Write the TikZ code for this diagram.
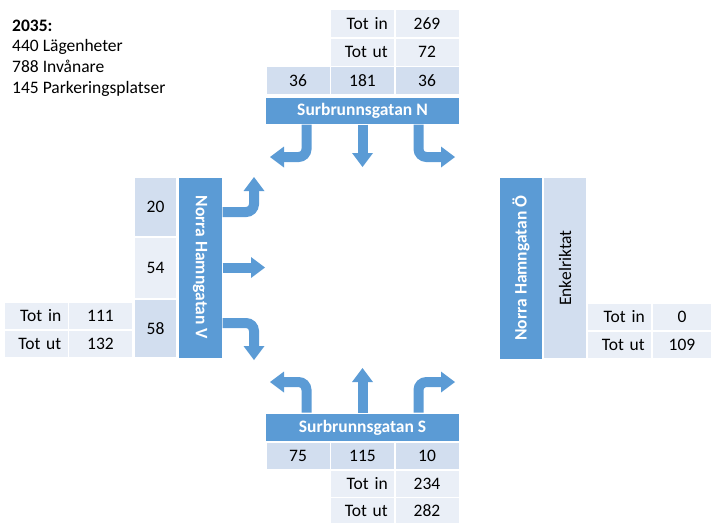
\documentclass[tikz,border=0pt]{standalone}
\usepackage{fontspec}
\setmainfont{Carlito}
\usetikzlibrary{arrows.meta, positioning}
\definecolor{barblue}{HTML}{5B9BD5}
\definecolor{celldark}{HTML}{D2DEEF}
\definecolor{cellpale}{HTML}{EAEFF7}

\begin{document}
\begin{tikzpicture}[x=1pt, y=-1pt,
    font=\fontsize{17.5}{20.8}\selectfont,
    cell/.style={fill=cellpale, draw=white, line width=1.5pt, inner sep=0pt, minimum width=64.5pt, minimum height=28.5pt},
    dcell/.style={cell, fill=celldark},
    lbl/.style={cell, text width=50.5pt, align=right, inner xsep=7pt},
    road/.style={fill=barblue, draw=white, line width=1pt, inner sep=0pt, text=white, font=\fontsize{17.5}{20.8}\selectfont\bfseries},
    flow/.style={draw=barblue, line width=10pt, rounded corners=8pt, -{Triangle[length=14pt, width=21pt, line width=0pt]}}]
    \useasboundingbox (0,0) rectangle (712,523);

    % info text
    \node[align=left, anchor=north west, inner sep=0pt] (info) at (12,19.5)
        {\textbf{2035:}\\440 Lägenheter\\788 Invånare\\145 Parkeringsplatser};

    % Surbrunnsgatan N
    \node[lbl] (ntotin) at (362.5,23.5) {Tot in};
    \node[cell] (ntotinv) at (427,23.5) {269};
    \node[lbl] (ntotut) at (362.5,52) {Tot ut};
    \node[cell] (ntotutv) at (427,52) {72};
    \node[dcell] (nleft) at (298,80.5) {36};
    \node[dcell] (nmid) at (362.5,80.5) {181};
    \node[dcell] (nright) at (427,80.5) {36};
    \node[road, minimum width=193.5pt, minimum height=27pt] (nbar) at (362.5,110.5) {Surbrunnsgatan N};

    % Norra Hamngatan V
    \node[dcell, minimum width=43pt, minimum height=60pt] (vtop) at (155.5,207) {20};
    \node[cell, minimum width=43pt, minimum height=61pt] (vmid) at (155.5,268) {54};
    \node[dcell, minimum width=43pt, minimum height=59pt] (vbot) at (155.5,328.5) {58};
    \node[road, rotate=-90, minimum width=181pt, minimum height=44pt] (vbar) at (200,267.5) {Norra Hamngatan V};
    \node[lbl, minimum height=28pt] (vtotin) at (36,316) {Tot in};
    \node[cell, minimum height=28pt] (vtotinv) at (100.5,316) {111};
    \node[lbl, minimum height=28pt] (vtotut) at (36,344) {Tot ut};
    \node[cell, minimum height=28pt] (vtotutv) at (100.5,344) {132};

    % Norra Hamngatan Ö
    \node[road, rotate=90, minimum width=182pt, minimum height=44pt] (obar) at (521,268) {Norra Hamngatan Ö};
    \node[dcell, rotate=90, minimum width=182pt, minimum height=44pt] (oinfo) at (565,268) {Enkelriktat};
    \node[lbl, minimum height=28pt] (ototin) at (619.5,317) {Tot in};
    \node[cell, minimum width=60pt, minimum height=28pt] (ototinv) at (682,317) {0};
    \node[lbl, minimum height=28pt] (ototut) at (619.5,345) {Tot ut};
    \node[cell, minimum width=60pt, minimum height=28pt] (ototutv) at (682,345) {109};

    % Surbrunnsgatan S
    \node[road, minimum width=193.5pt, minimum height=29pt] (sbar) at (362.5,427.5) {Surbrunnsgatan S};
    \node[dcell, minimum height=28pt] (sleft) at (298,456) {75};
    \node[dcell, minimum height=28pt] (smid) at (362.5,456) {115};
    \node[dcell, minimum height=28pt] (sright) at (427,456) {10};
    \node[lbl, minimum height=28pt] (stotin) at (362.5,484) {Tot in};
    \node[cell, minimum height=28pt] (stotinv) at (427,484) {234};
    \node[lbl, minimum height=26pt] (stotut) at (362.5,510.5) {Tot ut};
    \node[cell, minimum height=26pt] (stotutv) at (427,510.5) {282};

    % arrow ends
    \coordinate (nl) at (270,157);
    \coordinate (nm) at (362.5,167);
    \coordinate (nr) at (455,157);
    \coordinate (vl) at (254,177);
    \coordinate (vm) at (265,267.5);
    \coordinate (vr) at (254,360);
    \coordinate (sl) at (270,382);
    \coordinate (sm) at (362.5,368);
    \coordinate (sr) at (455,382);

    % turning flows
    \draw[flow] ([xshift=-56pt]nbar.south) |- (nl);
    \draw[flow] (nbar.south) -- (nm);
    \draw[flow] ([xshift=56pt]nbar.south) |- (nr);
    \draw[flow] ([yshift=55.5pt]vbar.north) -| (vl);
    \draw[flow] (vbar.north) -- (vm);
    \draw[flow] ([yshift=-55.5pt]vbar.north) -| (vr);
    \draw[flow] ([xshift=-56pt]sbar.north) |- (sl);
    \draw[flow] (sbar.north) -- (sm);
    \draw[flow] ([xshift=56pt]sbar.north) |- (sr);
\end{tikzpicture}
\end{document}
